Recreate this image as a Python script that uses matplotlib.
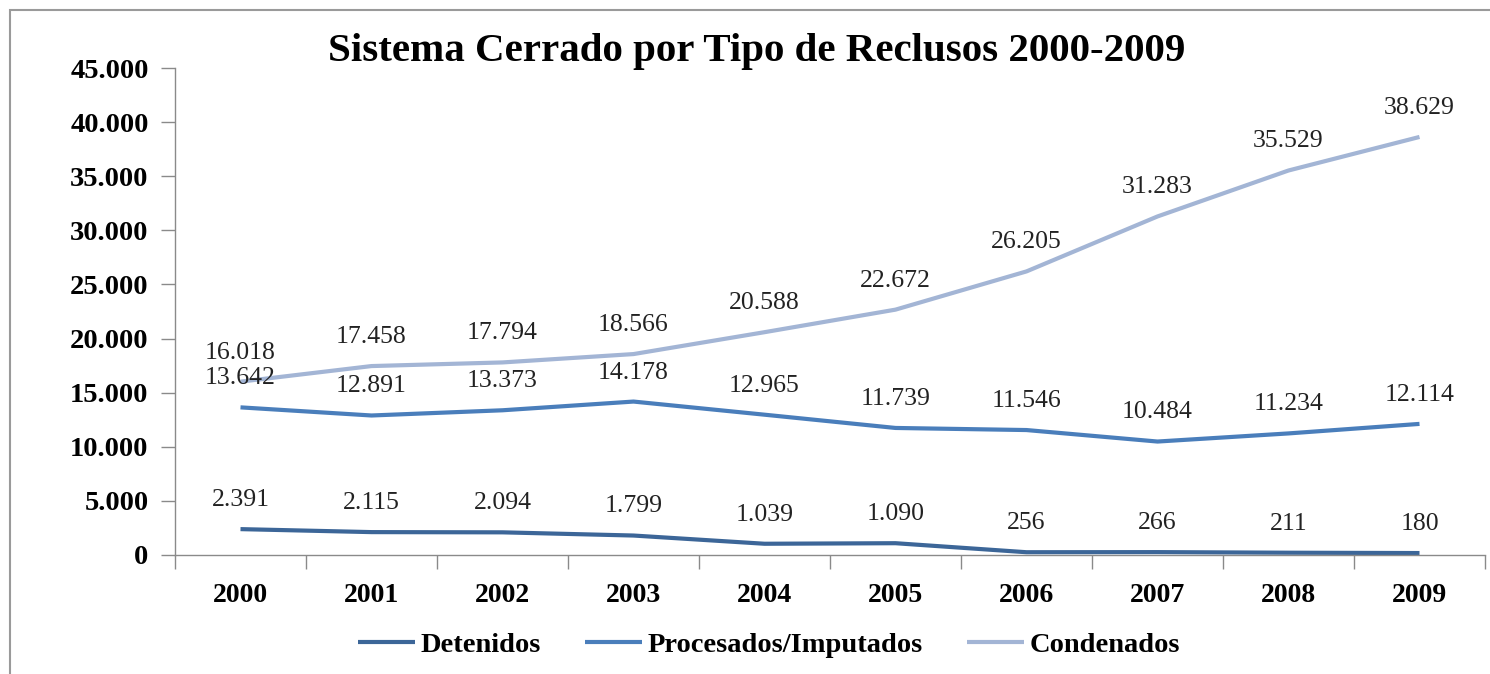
import matplotlib
matplotlib.use('Agg')
import matplotlib.pyplot as plt
import matplotlib.ticker as ticker
from matplotlib.patches import Rectangle

years = ['2000', '2001', '2002', '2003', '2004', '2005', '2006', '2007', '2008', '2009']
detenidos = [2391, 2115, 2094, 1799, 1039, 1090, 256, 266, 211, 180]
procesados = [13642, 12891, 13373, 14178, 12965, 11739, 11546, 10484, 11234, 12114]
condenados = [16018, 17458, 17794, 18566, 20588, 22672, 26205, 31283, 35529, 38629]

series = [('Detenidos', detenidos, '#3c6698'),
          ('Procesados/Imputados', procesados, '#4a7ebb'),
          ('Condenados', condenados, '#a3b5d5')]

def fmt(v):
    return f'{v:,}'.replace(',', '.')

plt.rcParams['font.family'] = ['Liberation Serif', 'DejaVu Serif']

fig = plt.figure(figsize=(14.9, 6.74), dpi=100)
# frame around the chart area (cut off on the right and bottom)
fig.patches.append(Rectangle((10/1490, -0.01), 1.01, 1 - 10/674 + 0.01,
                             transform=fig.transFigure, fill=False,
                             edgecolor='#9a9a9a', linewidth=1.5))

ax = fig.add_axes([175/1490, 1 - 555/674, 1310/1490, (555 - 68)/674])
x = list(range(len(years)))

for name, vals, col in series:
    ax.plot(x, vals, color=col, lw=3, label=name, solid_capstyle='butt')
    for xi, v in zip(x, vals):
        ax.annotate(fmt(v), (xi, v), xytext=(0, 13), textcoords='offset points',
                    ha='center', va='bottom', fontsize=18.5, color='#222222')

ax.set_xlim(-0.5, len(years) - 0.5)
ax.set_ylim(0, 45000)
ax.yaxis.set_major_locator(ticker.MultipleLocator(5000))
ax.yaxis.set_major_formatter(ticker.FuncFormatter(lambda v, p: fmt(int(v))))
ax.set_xticks(x)
ax.set_xticklabels(years)
ax.set_xticks([i - 0.5 for i in range(len(years) + 1)], minor=True)
ax.tick_params(axis='x', which='major', length=0, pad=20, labelsize=20)
ax.tick_params(axis='x', which='minor', length=10, width=1, color='#8a8a8a', direction='out')
ax.tick_params(axis='y', length=10, width=1, color='#8a8a8a', pad=9, labelsize=20.5)
for lab in ax.get_xticklabels() + ax.get_yticklabels():
    lab.set_fontweight('bold')

for s in ['top', 'right']:
    ax.spines[s].set_visible(False)
for s in ['left', 'bottom']:
    ax.spines[s].set_color('#8a8a8a')
    ax.spines[s].set_linewidth(1)

fig.text(757/1490, 1 - 51/674, 'Sistema Cerrado por Tipo de Reclusos 2000-2009',
         ha='center', va='center', fontsize=29.5, fontweight='bold')

leg = fig.legend(loc='center', bbox_to_anchor=(769/1490, 1 - 645/674), ncol=3,
                 frameon=False, handlelength=2.0, handletextpad=0.2,
                 columnspacing=1.55, prop={'size': 20.5, 'weight': 'bold'})

fig.savefig('out.png', dpi=100)
